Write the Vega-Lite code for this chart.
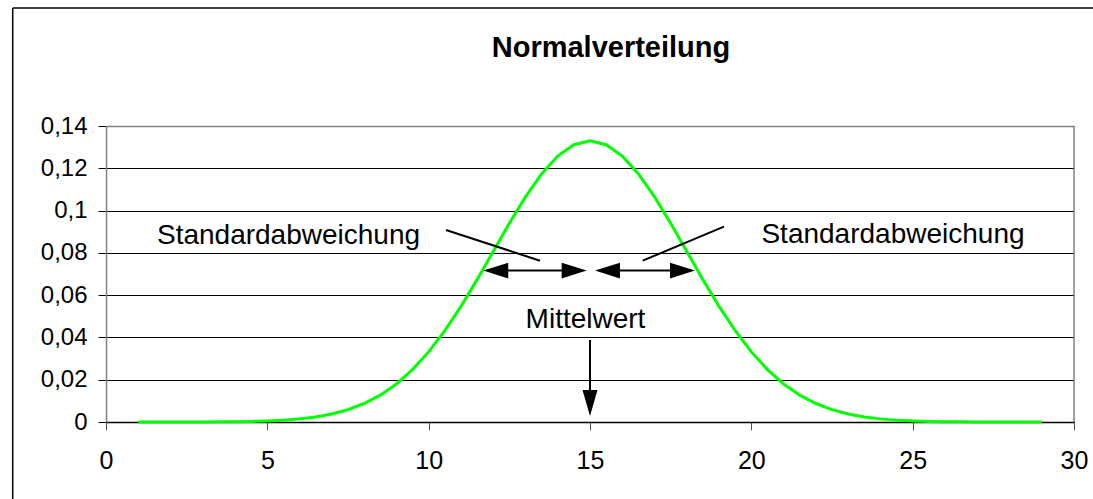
{
  "$schema": "https://vega.github.io/schema/vega-lite/v6.json",
  "autosize": {"type": "none"},
  "width": 968,
  "height": 296,
  "padding": {"left": 106, "top": 126, "right": 19, "bottom": 77},
  "background": "white",
  "config": {
    "view": {"stroke": null},
    "font": "Liberation Sans"
  },
  "title": {
    "text": "Normalverteilung",
    "font": "Liberation Sans",
    "fontSize": 29,
    "fontWeight": "bold",
    "color": "black",
    "anchor": "middle",
    "baseline": "alphabetic",
    "dx": 21,
    "offset": -79
  },
  "datasets": {
    "curve": [
      {"x": 1, "y": 0.0000025}, {"x": 1.5, "y": 0.0000053}, {"x": 2, "y": 0.0000111}, {"x": 2.5, "y": 0.0000226},
      {"x": 3, "y": 0.0000446}, {"x": 3.5, "y": 0.0000856}, {"x": 4, "y": 0.000160}, {"x": 4.5, "y": 0.000291},
      {"x": 5, "y": 0.000514}, {"x": 5.5, "y": 0.000884}, {"x": 6, "y": 0.001477}, {"x": 6.5, "y": 0.002402},
      {"x": 7, "y": 0.003799}, {"x": 7.5, "y": 0.005843}, {"x": 8, "y": 0.008741}, {"x": 8.5, "y": 0.012718},
      {"x": 9, "y": 0.017997}, {"x": 9.5, "y": 0.024770}, {"x": 10, "y": 0.033159}, {"x": 10.5, "y": 0.043172},
      {"x": 11, "y": 0.054670}, {"x": 11.5, "y": 0.067333}, {"x": 12, "y": 0.080657}, {"x": 12.5, "y": 0.093971},
      {"x": 13, "y": 0.106483}, {"x": 13.5, "y": 0.117355}, {"x": 14, "y": 0.125795}, {"x": 14.5, "y": 0.131147},
      {"x": 15, "y": 0.132981},
      {"x": 15.5, "y": 0.131147}, {"x": 16, "y": 0.125795}, {"x": 16.5, "y": 0.117355}, {"x": 17, "y": 0.106483},
      {"x": 17.5, "y": 0.093971}, {"x": 18, "y": 0.080657}, {"x": 18.5, "y": 0.067333}, {"x": 19, "y": 0.054670},
      {"x": 19.5, "y": 0.043172}, {"x": 20, "y": 0.033159}, {"x": 20.5, "y": 0.024770}, {"x": 21, "y": 0.017997},
      {"x": 21.5, "y": 0.012718}, {"x": 22, "y": 0.008741}, {"x": 22.5, "y": 0.005843}, {"x": 23, "y": 0.003799},
      {"x": 23.5, "y": 0.002402}, {"x": 24, "y": 0.001477}, {"x": 24.5, "y": 0.000884}, {"x": 25, "y": 0.000514},
      {"x": 25.5, "y": 0.000291}, {"x": 26, "y": 0.000160}, {"x": 26.5, "y": 0.0000856}, {"x": 27, "y": 0.0000446},
      {"x": 27.5, "y": 0.0000226}, {"x": 28, "y": 0.0000111}, {"x": 28.5, "y": 0.0000053}, {"x": 29, "y": 0.0000025}
    ],
    "segments": [
      {"x": 10.537, "y": 0.0908, "x2": 13.45, "y2": 0.0763},
      {"x": 16.633, "y": 0.0763, "x2": 19.152, "y2": 0.0924},
      {"x": 12.08, "y": 0.0716, "x2": 14.51, "y2": 0.0716},
      {"x": 15.542, "y": 0.0716, "x2": 17.867, "y2": 0.0716},
      {"x": 15.0, "y": 0.0388, "x2": 15.0, "y2": 0.0142}
    ],
    "heads": [
      {"x": 12.08, "y": 0.0716, "dir": "left"},
      {"x": 14.51, "y": 0.0716, "dir": "right"},
      {"x": 15.542, "y": 0.0716, "dir": "left"},
      {"x": 17.867, "y": 0.0716, "dir": "right"},
      {"x": 15.0, "y": 0.0090, "dir": "down"}
    ],
    "labels": [
      {"x": 5.656, "y": 0.0840, "text": "Standardabweichung"},
      {"x": 24.39, "y": 0.0845, "text": "Standardabweichung"},
      {"x": 14.86, "y": 0.0443, "text": "Mittelwert"}
    ],
    "frame": [
      {"x": -2.891, "y": 0.1958, "x2": -2.891, "y2": -0.0364},
      {"x": -2.891, "y": 0.1958, "x2": 30.59, "y2": 0.1958}
    ],
    "border": [
      {"x": 30, "y": 0, "x2": 30, "y2": 0.14}
    ]
  },
  "layer": [
    {
      "data": {"name": "border"},
      "mark": {"type": "rule", "color": "#808080", "strokeWidth": 1.5},
      "encoding": {
        "x": {"field": "x", "type": "quantitative", "scale": {"domain": [0, 30], "nice": false, "zero": false},
          "axis": {
            "values": [0, 5, 10, 15, 20, 25, 30],
            "title": null,
            "grid": false,
            "domainColor": "black",
            "domainWidth": 1.3,
            "tickColor": "#555555",
            "tickSize": 8,
            "tickWidth": 1,
            "labelFont": "Liberation Sans",
            "labelFontSize": 25,
            "labelColor": "black",
            "labelBaseline": "alphabetic",
            "labelPadding": 38,
            "labelFlush": false,
            "labelOverlap": false
          }
        },
        "y": {"field": "y", "type": "quantitative", "scale": {"domain": [0, 0.14], "nice": false, "zero": true},
          "axis": {
            "values": [0, 0.02, 0.04, 0.06, 0.08, 0.1, 0.12, 0.14],
            "title": null,
            "grid": true,
            "gridColor": {"condition": {"test": "datum.value > 0.139", "value": "#808080"}, "value": "black"},
            "gridWidth": {"condition": {"test": "datum.value > 0.139", "value": 1.5}, "value": 1},
            "gridOpacity": 1,
            "domainColor": "#808080",
            "domainWidth": 1.5,
            "tickColor": "black",
            "tickSize": 8,
            "tickWidth": 1,
            "labelFont": "Liberation Sans",
            "labelFontSize": 24,
            "labelColor": "black",
            "labelPadding": 11,
            "labelFlush": false,
            "labelOverlap": false,
            "labelExpr": "replace('' + datum.value, '.', ',')"
          }
        },
        "x2": {"field": "x2"},
        "y2": {"field": "y2"}
      }
    },
    {
      "data": {"name": "curve"},
      "mark": {"type": "line", "color": "#00FF00", "strokeWidth": 3},
      "encoding": {
        "x": {"field": "x", "type": "quantitative"},
        "y": {"field": "y", "type": "quantitative"}
      }
    },
    {
      "data": {"name": "segments"},
      "mark": {"type": "rule", "color": "black", "strokeWidth": 2},
      "encoding": {
        "x": {"field": "x", "type": "quantitative"},
        "y": {"field": "y", "type": "quantitative"},
        "x2": {"field": "x2"},
        "y2": {"field": "y2"}
      }
    },
    {
      "data": {"name": "heads"},
      "mark": {"type": "point", "filled": true, "color": "black", "opacity": 1, "size": 676, "strokeWidth": 0},
      "encoding": {
        "x": {"field": "x", "type": "quantitative"},
        "y": {"field": "y", "type": "quantitative"},
        "shape": {"field": "dir", "type": "nominal", "legend": null,
          "scale": {"domain": ["left", "right", "down"],
            "range": ["M0.96,-0.6L-0.96,0L0.96,0.6Z", "M-0.96,-0.6L0.96,0L-0.96,0.6Z", "M-0.577,-1L0.577,-1L0,1Z"]}}
      }
    },
    {
      "data": {"name": "labels"},
      "mark": {"type": "text", "font": "Liberation Sans", "fontSize": 28, "color": "black", "align": "center", "baseline": "alphabetic"},
      "encoding": {
        "x": {"field": "x", "type": "quantitative"},
        "y": {"field": "y", "type": "quantitative"},
        "text": {"field": "text"}
      }
    },
    {
      "data": {"name": "frame"},
      "mark": {"type": "rule", "color": "black", "strokeWidth": 1.5},
      "encoding": {
        "x": {"field": "x", "type": "quantitative"},
        "y": {"field": "y", "type": "quantitative"},
        "x2": {"field": "x2"},
        "y2": {"field": "y2"}
      }
    }
  ]
}
